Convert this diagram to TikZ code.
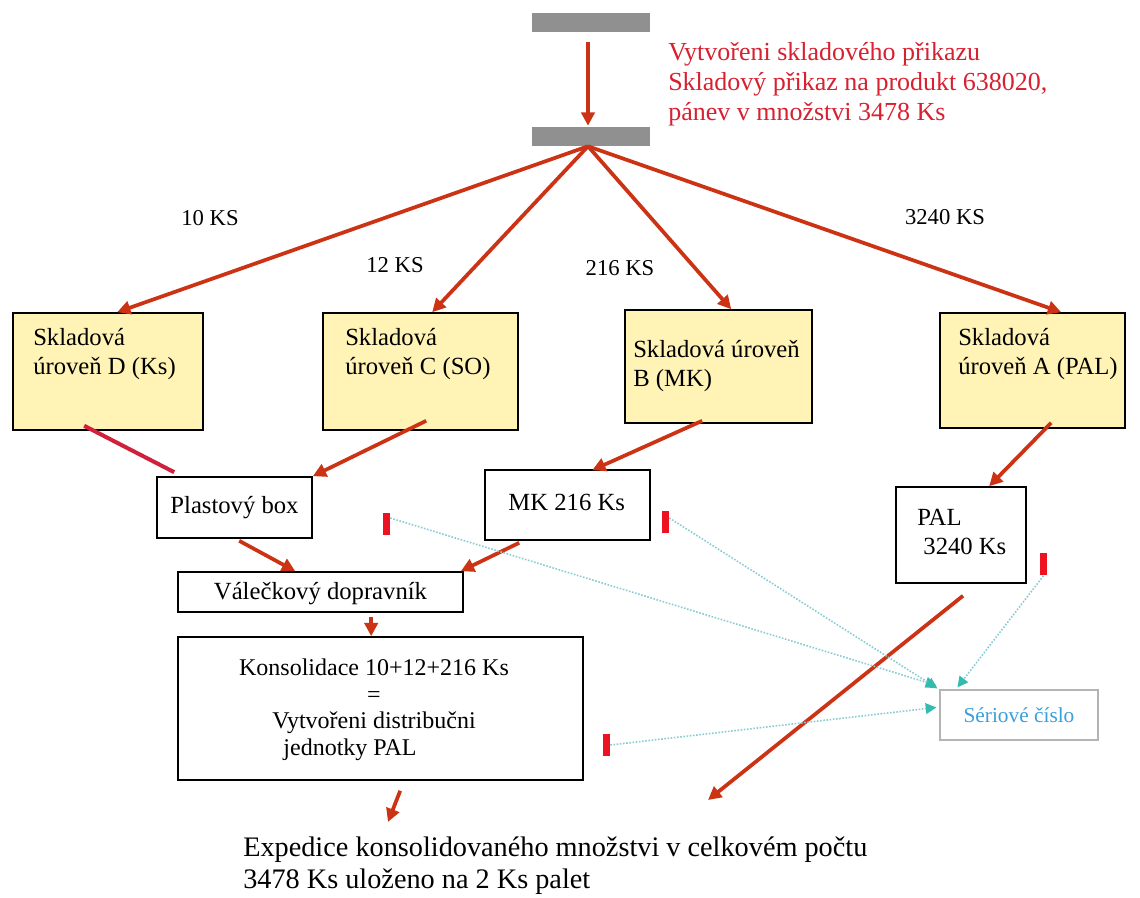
\documentclass[tikz,border=0pt]{standalone}
\usepackage{fontspec}
\setmainfont{Liberation Serif}
\usetikzlibrary{arrows.meta,calc,fit}
\definecolor{arr}{HTML}{CC3314}
\definecolor{arrb}{HTML}{D0203C}
\definecolor{ybg}{HTML}{FFF3B5}
\definecolor{mk}{HTML}{EE1122}
\definecolor{dotc}{HTML}{88CCD4}
\definecolor{tipc}{HTML}{33BBB0}
\definecolor{sertxt}{HTML}{3AA0DC}
\definecolor{sergray}{HTML}{B4B4B4}
\definecolor{barc}{HTML}{909090}
\definecolor{toptxt}{HTML}{D82030}
\begin{document}
\begin{tikzpicture}[x=0.75pt,y=-0.75pt,
  ybox/.style={draw=black,line width=1.2pt,fill=ybg,inner sep=0pt},
  wbox/.style={draw=black,line width=1.2pt,fill=white,inner sep=0pt},
  sbox/.style={draw=sergray,line width=0.9pt,fill=white,inner sep=0pt},
  gbar/.style={fill=barc,draw=none,inner sep=0pt},
  boxtxt/.style={inner sep=0pt,align=left,font=\fontsize{18.5}{22}\selectfont},
  kstxt/.style={inner sep=0pt,font=\fontsize{17}{20}\selectfont},
  ra/.style={draw=arr,line width=2.8pt,-{Triangle[length=10pt,width=10pt]}},
  rline/.style={draw=arrb,line width=3pt},
  rmark/.style={fill=mk,draw=none,inner sep=0pt,minimum width=5.25pt,minimum height=16.5pt},
  da/.style={draw=dotc,line width=1.2pt,dash pattern=on 1.2pt off 1.2pt,-{Triangle[length=8pt,width=8pt,color=tipc]}}
]
\useasboundingbox (0,0) rectangle (1140,898);
\fill[white] (0,0) rectangle (1140,898);

% top bars
\node[gbar,fit={(532,13) (650,32)}] (bar1) {};
\node[gbar,fit={(532,127) (650,146)}] (bar2) {};
\draw[ra] ($(bar1.south)+(-3,10)$) -- ($(bar2.north)+(-3,-1)$);
\coordinate (hub) at ($(bar2.south)+(-3,0)$);

\node[anchor=north west,inner sep=0pt,align=left,text=toptxt,
  font=\fontsize{19.5}{22.5}\selectfont] (toptext) at (668,42)
  {Vytvořeni skladového přikazu\\Skladový přikaz na produkt 638020,\\pánev v množstvi 3478 Ks};

% level boxes
\node[ybox,fit={(13,313) (203,430)}] (D) {};
\node[ybox,fit={(323,313) (518,430)}] (C) {};
\node[ybox,fit={(625,310) (812,423)}] (B) {};
\node[ybox,fit={(940,313) (1125,428)}] (A) {};
\node[boxtxt,anchor=north west] (Dt) at (33,328) {Skladová\\úroveň D (Ks)};
\node[boxtxt,anchor=north west] (Ct) at (345,328) {Skladová\\úroveň C (SO)};
\node[boxtxt,anchor=north west] (Bt) at (633,340) {Skladová úroveň\\B (MK)};
\node[boxtxt,anchor=north west] (At) at (958,328) {Skladová\\úroveň A (PAL)};

% quantity labels
\node[kstxt] (l10) at (210,218) {10 KS};
\node[kstxt] (l12) at (395,265) {12 KS};
\node[kstxt] (l216) at (620,268) {216 KS};
\node[kstxt] (l3240) at (945,217) {3240 KS};

% arrows from hub
\draw[ra] (hub) -- ($(D.north west)+(105,0)$);
\draw[ra] (hub) -- ($(C.north west)+(110,0)$);
\draw[ra] (hub) -- ($(B.north west)+(107,0)$);
\draw[ra] (hub) -- ($(A.north west)+(122,0)$);

% second row boxes
\node[wbox,fit={(157,477) (312,538)}] (P) {};
\node[boxtxt] at (P.center) {Plastový box};
\node[wbox,fit={(485,470) (650,540)}] (MK) {};
\node[boxtxt,anchor=west] at ($(MK.west)+(24,-3)$) {MK 216 Ks};
\node[wbox,fit={(896,487) (1026,583)}] (PAL) {};
\node[boxtxt,anchor=north west] at (917,509) {PAL\\\ 3240 Ks};

\node[wbox,fit={(178,572) (463,612)}] (V) {};
\node[boxtxt] at ($(V.center)+(0,2)$) {Válečkový dopravník};
\node[wbox,fit={(178,637) (583,780)}] (K) {};
\node[inner sep=0pt,align=center,font=\fontsize{18}{19.8}\selectfont,anchor=north] at (374,659)
  {Konsolidace 10+12+216 Ks\\=\\Vytvořeni distribučni\\jednotky PAL\hspace{2em}\mbox{}};

\node[sbox,fit={(940,690) (1098,740)}] (S) {};
\node[inner sep=0pt,text=sertxt,font=\fontsize{16}{19}\selectfont] at ($(S.center)+(0,0)$) {Sériové číslo};

% red connectors
\draw[rline] ($(D.south west)+(72,-5)$) -- ($(P.north west)+(18,-4)$);
\draw[ra] ($(C.south west)+(104,-10)$) -- (P.north east);
\draw[ra] ($(B.south west)+(78,-3)$) -- ($(MK.north west)+(108,1)$);
\draw[ra] ($(A.south west)+(112,-6)$) -- ($(PAL.north west)+(94,0)$);
\draw[ra] ($(P.south west)+(83,2)$) -- ($(V.north west)+(118,0)$);
\draw[ra] ($(MK.south west)+(35,2)$) -- ($(V.north east)+(-3,0)$);
\draw[ra] ($(V.south west)+(194,4)$) -- ($(K.north west)+(194,0)$);
\coordinate (e1) at (388,822);
\draw[ra] ($(K.south west)+(223,10)$) -- (e1);
\coordinate (e2) at (708,800);
\draw[ra] ($(PAL.south)+(2,12)$) -- (e2);

% red markers and dotted links
\node[rmark] (m1) at (386.5,524) {};
\node[rmark] (m2) at (665.5,522) {};
\node[rmark] (m3) at (1043.5,564.5) {};
\node[rmark] (m4) at (606.5,745) {};
\draw[da] ($(m1.east)+(0,-6)$) -- ($(S.north west)+(-3,-4)$);
\draw[da] ($(m2.east)+(0,-4)$) -- ($(S.north west)+(-2,-1)$);
\draw[da] (m3.south) -- ($(S.north west)+(18,-2)$);
\draw[da] (m4.east) -- ($(S.north west)+(-3,18)$);

% bottom text
\node[anchor=north west,inner sep=0pt,align=left,font=\fontsize{21.2}{24}\selectfont] (bottom) at (243,837)
  {Expedice konsolidovaného množstvi v celkovém počtu\\3478 Ks uloženo na 2 Ks palet};
\end{tikzpicture}
\end{document}
